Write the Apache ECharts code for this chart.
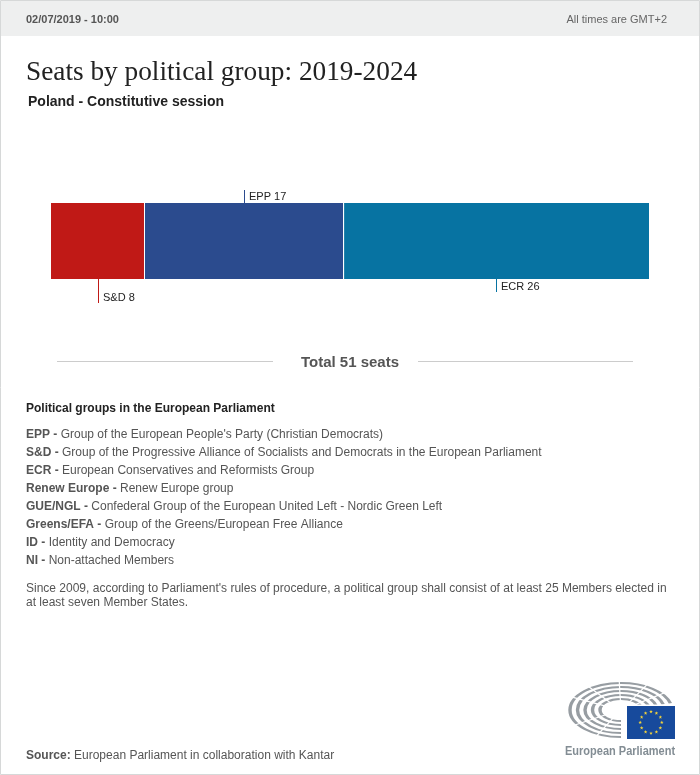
<!DOCTYPE html>
<html>
<head>
<meta charset="utf-8">
<title>Seats by political group: 2019-2024</title>
<script src="https://cdn.jsdelivr.net/npm/echarts@6/dist/echarts.min.js"></script>
<style>
html, body { margin: 0; padding: 0; background: #fff; }
#ech { width: 700px; height: 775px; }
</style>
</head>
<body>
<div id="ech"></div>
<script>
// seats, left to right
var groups = ['S&D', 'EPP', 'ECR'];
var seats = [8, 17, 26];
var totalLabel = 'Total 51 seats';

var legendCodes = ['EPP', 'S&D', 'ECR', 'Renew Europe', 'GUE/NGL', 'Greens/EFA', 'ID', 'NI'];
var legendNames = [
	"Group of the European People's Party (Christian Democrats)",
	'Group of the Progressive Alliance of Socialists and Democrats in the European Parliament',
	'European Conservatives and Reformists Group',
	'Renew Europe group',
	'Confederal Group of the European United Left - Nordic Green Left',
	'Group of the Greens/European Free Alliance',
	'Identity and Democracy',
	'Non-attached Members'
];

var SANS = '"Liberation Sans", Arial, sans-serif';
var colors = { 'S&D': '#c01916', 'EPP': '#2b4b8e', 'ECR': '#0773a2' };
// leader line direction and length for every bar label
var leaders = { 'S&D': 24, 'EPP': -13, 'ECR': 13 };

function txt(x, y, text, size, color, weight, extra) {
	var style = {
		x: x, y: y, text: text, fill: color,
		font: (weight || 'normal') + ' ' + size + 'px ' + SANS,
		textVerticalAlign: 'middle'
	};
	for (var k in extra || {}) style[k] = extra[k];
	return { type: 'text', silent: true, style: style };
}

function line(x1, y1, x2, y2, color, width) {
	return { type: 'line', silent: true, shape: { x1: x1, y1: y1, x2: x2, y2: y2 }, style: { stroke: color, lineWidth: width || 1 } };
}

function pageGraphics() {
	var items = [
		{ type: 'rect', silent: true, shape: { x: 1, y: 1, width: 698, height: 35 }, style: { fill: '#eeefef' } },
		{ type: 'rect', silent: true, z: 10, shape: { x: 0.5, y: 0.5, width: 699, height: 774 }, style: { fill: 'transparent', stroke: '#d6d8d8', lineWidth: 1 } },
		txt(26, 20, '02/07/2019 - 10:00', 11, '#555555', 'bold'),
		txt(667, 20, 'All times are GMT+2', 11, '#666666', 'normal', { textAlign: 'right' }),
		{ type: 'text', silent: true, style: { x: 26, y: 73, text: 'Seats by political group: 2019-2024', fill: '#222222', font: '27.3px "Liberation Serif", Georgia, serif', textVerticalAlign: 'middle' } },
		txt(28, 102, 'Poland - Constitutive session', 14, '#222222', 'bold'),
		line(57, 361.5, 273, 361.5, '#cccccc'),
		line(418, 361.5, 633, 361.5, '#cccccc'),
		txt(350, 363, totalLabel, 15, '#555555', 'bold', { textAlign: 'center' }),
		txt(26, 409, 'Political groups in the European Parliament', 12, '#222222', 'bold'),
		txt(26, 589, 'Since 2009, according to Parliament\'s rules of procedure, a political group shall consist of at least 25 Members elected in', 12, '#555555'),
		txt(26, 603, 'at least seven Member States.', 12, '#555555'),
		{
			type: 'text', silent: true,
			style: {
				x: 26, y: 756, fill: '#555555', textVerticalAlign: 'middle',
				text: '{b|Source:} {r|European Parliament in collaboration with Kantar}',
				rich: {
					b: { font: 'bold 12px ' + SANS, fill: '#555555' },
					r: { font: '12px ' + SANS, fill: '#555555' }
				}
			}
		}
	];
	for (var i = 0; i < legendCodes.length; i++) {
		items.push({
			type: 'text', silent: true,
			style: {
				x: 26, y: 435 + i * 18, textVerticalAlign: 'middle',
				text: '{b|' + legendCodes[i] + ' -} {r|' + legendNames[i] + '}',
				rich: {
					b: { font: 'bold 12px ' + SANS, fill: '#555555' },
					r: { font: '12px ' + SANS, fill: '#555555' }
				}
			}
		});
	}
	return items.concat(logoGraphics());
}

// European Parliament logo: hemicycle rows, then the flag on top
function logoGraphics() {
	var cx = 621, cy = 710, items = [];
	var rows = [[51, 27], [43.5, 23], [36, 19], [28.5, 15], [21, 11]];
	rows.forEach(function(r) {
		items.push({
			type: 'arc', silent: true,
			scaleY: r[1] / r[0], originX: cx, originY: cy,
			shape: { cx: cx, cy: cy, r: r[0], startAngle: Math.PI / 2, endAngle: Math.PI * 1.92, clockwise: true },
			style: { fill: 'none', stroke: '#979da2', lineWidth: 3.4 }
		});
	});
	// aisles between the seat blocks
	[118, 150, 205, 232, 268, 300, 325].forEach(function(deg) {
		var a = deg * Math.PI / 180;
		items.push(line(cx + 15 * Math.cos(a), cy + 8 * Math.sin(a), cx + 60 * Math.cos(a), cy + 34 * Math.sin(a), '#ffffff', 1.2));
	});
	items.push({ type: 'rect', silent: true, shape: { x: 625, y: 704.5, width: 52, height: 36 }, style: { fill: '#ffffff' } });
	items.push({ type: 'rect', silent: true, shape: { x: 627, y: 706, width: 48, height: 33 }, style: { fill: '#174a9c' } });
	for (var i = 0; i < 12; i++) {
		var t = i * Math.PI / 6;
		items.push({
			type: 'polygon', silent: true,
			shape: { points: starPoints(651 + 10.8 * Math.cos(t), 722.5 + 10.8 * Math.sin(t), 1.9) },
			style: { fill: '#f2d33c' }
		});
	}
	items.push({
		type: 'text', silent: true,
		scaleX: 0.815, originX: 565, originY: 751,
		style: { x: 565, y: 751, text: 'European Parliament', fill: '#838d94', font: 'bold 13.5px "Liberation Sans", sans-serif', textVerticalAlign: 'middle' }
	});
	return items;
}

function starPoints(x, y, r) {
	var pts = [];
	for (var i = 0; i < 10; i++) {
		var a = -Math.PI / 2 + i * Math.PI / 5;
		var d = i % 2 ? r * 0.42 : r;
		pts.push([x + d * Math.cos(a), y + d * Math.sin(a)]);
	}
	return pts;
}

function showEchart() {
	var myChart = echarts.init(document.getElementById('ech'));

	var series = groups.map(function(name, i) {
		return {
			name: name,
			type: 'bar',
			stack: 'seats',
			barWidth: '100%',
			itemStyle: { color: colors[name] },
			data: [seats[i]]
		};
	});

	// leader lines and labels sit at the middle of each bar
	var start = 0;
	var leaderData = groups.map(function(name, i) {
		var row = [start + seats[i] / 2, 0, i, start];
		start += seats[i];
		return row;
	});
	series.push({
		type: 'custom',
		silent: true,
		z: 5,
		encode: { x: 0, y: 1 },
		data: leaderData,
		renderItem: function(params, api) {
			var name = groups[api.value(2)];
			var p = api.coord([api.value(0), 0]);
			var half = api.size([0, 1])[1] / 2;
			var len = leaders[name];
			var y0 = p[1] + (len > 0 ? half : -half);
			var x = Math.round(p[0] - 0.3) + 0.5;
			var children = [
				{ type: 'line', shape: { x1: x, y1: y0, x2: x, y2: y0 + len }, style: { stroke: colors[name], lineWidth: 1 } },
				{
					type: 'text',
					style: {
						x: x + 4.5, y: y0 + len + (len > 0 ? -5 : 7),
						text: name + ' ' + seats[api.value(2)],
						fill: '#222222', font: '11px ' + SANS, textVerticalAlign: 'middle'
					}
				}
			];
			// white hairline between neighbouring bars
			if (api.value(2) > 0) {
				var sep = Math.floor(api.coord([api.value(3), 0])[0] - 0.2) + 0.5;
				children.push({ type: 'line', shape: { x1: sep, y1: p[1] - half, x2: sep, y2: p[1] + half }, style: { stroke: '#ffffff', lineWidth: 1 } });
			}
			return { type: 'group', children: children };
		}
	});

	var option = {
		animation: false,
		backgroundColor: '#ffffff',
		grid: { left: 51, top: 203, width: 598, height: 76 },
		xAxis: { type: 'value', min: 0, max: 51, show: false },
		yAxis: { type: 'category', data: ['Seats'], show: false },
		graphic: { elements: pageGraphics() },
		series: series
	};

	myChart.setOption(option);
}

showEchart();
</script>
</body>
</html>
